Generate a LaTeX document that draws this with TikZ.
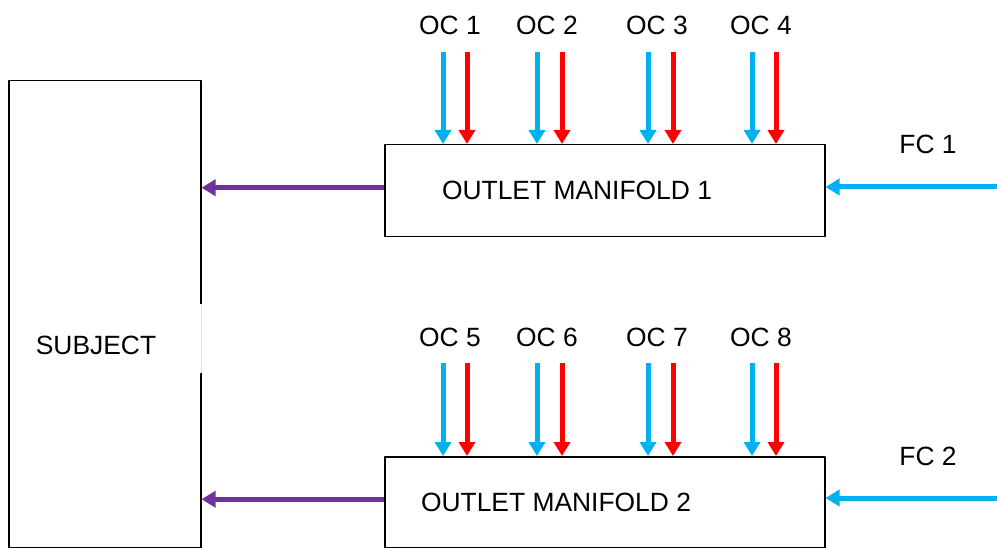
\documentclass[tikz,border=0pt]{standalone}
\usepackage{fontspec}
\setmainfont{Liberation Sans}
\usetikzlibrary{arrows.meta}
\definecolor{coolblue}{HTML}{00B0F0}
\definecolor{hotred}{HTML}{FF0000}
\definecolor{outpurple}{HTML}{7030A0}

\begin{document}
\begin{tikzpicture}[x=1pt, y=-1pt, font=\fontsize{26.4}{30}\selectfont, line join=round, >={Triangle[length=14pt,width=16pt]},
    box/.style={draw, line width=1.5pt, inner sep=0pt, anchor=north west},
    flow/.style={line width=5pt, ->},
    lbl/.style={inner sep=0pt}]
  \useasboundingbox (0,0) rectangle (997,548);
  % boxes
  \node[box, minimum width=192pt, minimum height=467pt] (subj) at (8,80) {};
  \node[box, minimum width=440pt, minimum height=92pt] (man1) at (384,144) {};
  \node[box, minimum width=440pt, minimum height=91pt] (man2) at (384,456) {};
  \draw[white, line width=2.5pt] (subj.east |- 0,304) -- (subj.east |- 0,373);
  \draw[black!12, line width=0.8pt] (subj.east |- 0,304) -- (subj.east |- 0,373);
  % texts
  \node[lbl] (subjtxt) at (96,345) {SUBJECT};
  \node[lbl] (man1txt) at (577,190) {OUTLET MANIFOLD 1};
  \node[lbl] (man2txt) at (556,502) {OUTLET MANIFOLD 2};
  \node[lbl] (fc1) at (928,144) {FC 1};
  \node[lbl] (fc2) at (928,456) {FC 2};
  % outlet flow to subject
  \coordinate (out1) at ([yshift=3pt]man1.west);
  \coordinate (out2) at ([yshift=3pt]man2.west);
  \draw[flow, outpurple] (out1) -- (subj.east |- out1);
  \draw[flow, outpurple] (out2) -- (subj.east |- out2);
  % fresh inflow
  \coordinate (fcin1) at (997,187);
  \coordinate (fcin2) at (997,498);
  \draw[flow, coolblue] (fcin1) -- (fcin1 -| man1.east);
  \draw[flow, coolblue] (fcin2) -- (fcin2 -| man2.east);
  % channel inflows
  \foreach \i/\j/\xl/\xb/\xr in {1/5/450/443/467, 2/6/547/537/562, 3/7/657/648/673, 4/8/761/752/776}{
    \node[lbl] (oc\i) at (\xl,25) {OC \i};
    \node[lbl] (oc\j) at (\xl,337) {OC \j};
    \coordinate (b\i) at (\xb,52);
    \coordinate (r\i) at (\xr,52);
    \coordinate (b\j) at (\xb,363);
    \coordinate (r\j) at (\xr,363);
    \draw[flow, coolblue] (b\i) -- (b\i |- man1.north);
    \draw[flow, hotred] (r\i) -- (r\i |- man1.north);
    \draw[flow, coolblue] (b\j) -- (b\j |- man2.north);
    \draw[flow, hotred] (r\j) -- (r\j |- man2.north);
  }
\end{tikzpicture}
\end{document}
